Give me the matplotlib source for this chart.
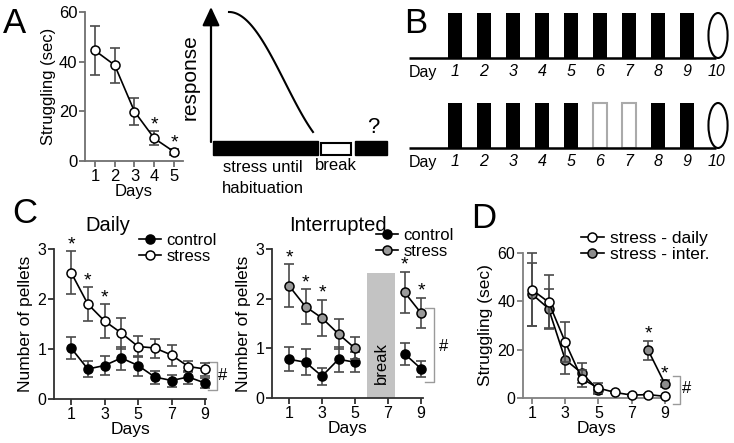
import numpy as np
import matplotlib
matplotlib.use('Agg')
import matplotlib.pyplot as plt
from matplotlib.patches import Ellipse, Rectangle

plt.rcParams['font.family'] = ['Liberation Sans', 'DejaVu Sans']

W, H = 734, 443
nan = np.nan

# A - struggling during daily restraint
days_a = [1, 2, 3, 4, 5]
struggle_a = [44.5, 38.6, 19.9, 9.1, 3.7]
struggle_a_sem = [10, 7, 5.3, 2.8, 1.3]
stars_a = [4, 5]

# B - protocol timelines
protocol_days = [1, 2, 3, 4, 5, 6, 7, 8, 9]
break_days = [6, 7]
test_day = 10
day_labels = ['1', '2', '3', '4', '5', '6', '7', '8', '9', '10']

# C - pellets
days_c = [1, 2, 3, 4, 5, 6, 7, 8, 9]
daily_control = [1.02, 0.6, 0.67, 0.82, 0.67, 0.44, 0.37, 0.44, 0.32]
daily_control_sem = [0.22, 0.16, 0.19, 0.23, 0.2, 0.13, 0.12, 0.13, 0.1]
daily_stress = [2.53, 1.9, 1.56, 1.32, 1.05, 1.02, 0.88, 0.65, 0.6]
daily_stress_sem = [0.43, 0.34, 0.34, 0.31, 0.21, 0.19, 0.21, 0.11, 0.13]
stars_daily = [1, 2, 3]

inter_control = [0.78, 0.72, 0.44, 0.78, 0.72, nan, nan, 0.89, 0.59]
inter_control_sem = [0.24, 0.26, 0.17, 0.25, 0.2, nan, nan, 0.22, 0.16]
inter_stress = [2.26, 1.84, 1.61, 1.29, 1.0, nan, nan, 2.13, 1.71]
inter_stress_sem = [0.43, 0.35, 0.37, 0.31, 0.22, nan, nan, 0.41, 0.31]
stars_inter = [1, 2, 3, 8, 9]
break_span = (5.75, 7.4)
break_height = 2.52

# D - struggling, daily vs interrupted
struggle_daily = [44.8, 39.7, 23.2, 8.0, 4.1, 2.3, 1.2, 1.4, 0.7]
struggle_daily_sem = [15, 11.2, 8.2, 3.4, 2.0, 0.4, 0.3, 0.3, 0.3]
struggle_inter = [43.0, 37.0, 15.9, 10.3, 3.2, nan, nan, 19.7, 5.9]
struggle_inter_sem = [13, 8, 6.1, 4.0, 1.5, nan, nan, 3.9, 1.5]
stars_d = [8, 9]

GRAY = '#9a9a9a'
ERR = '#4a4a4a'


def px_axes(fig, left, top, right, bottom):
    return fig.add_axes([left / W, 1 - bottom / H, (right - left) / W, (bottom - top) / H])


def style_axes(ax, color):
    ax.set_facecolor('none')
    for s in ('top', 'right'):
        ax.spines[s].set_visible(False)
    for s in ('left', 'bottom'):
        ax.spines[s].set_color(color)
        ax.spines[s].set_linewidth(1.3)
    ax.tick_params(direction='out', length=4, width=1.3, color=color, labelsize=11.5, pad=1.5)


def draw_series(ax, x, y, err, face, label=None, z=3):
    ax.errorbar(x, y, yerr=err, fmt='none', ecolor=ERR, elinewidth=1.2,
                capsize=3.5, capthick=1.2, zorder=z - 1, clip_on=False)
    ax.plot(x, y, '-o', color='black', lw=1.2, mfc=face, mec='black', mew=1.1,
            ms=6.5, label=label, zorder=z, clip_on=False)


def add_stars(ax, days, x, y, err, pad):
    for d in days:
        i = x.index(d)
        ax.text(d, y[i] + err[i] + pad, '*', ha='center', va='bottom', fontsize=14,
                clip_on=False)


def add_bracket(ax, x0, x1, y_top, y_bot, x_hash, y_hash):
    ax.plot([x0, x1, x1, x0], [y_top, y_top, y_bot, y_bot], color=GRAY, lw=1.0,
            clip_on=False)
    ax.text(x_hash, y_hash, '#', ha='center', va='center', fontsize=12, clip_on=False)


def fig_legend(ax, x, y, size=12):
    ax.legend(loc='upper left', bbox_to_anchor=(x / W, 1 - y / H),
              bbox_transform=ax.figure.transFigure, frameon=False, fontsize=size,
              handlelength=1.3, handletextpad=0.35, labelspacing=0.05, borderpad=0,
              borderaxespad=0)


fig = plt.figure(figsize=(W / 100, H / 100), dpi=100)

# overlay in pixel units for schematic and labels
ov = fig.add_axes([0, 0, 1, 1])
ov.set_xlim(0, W)
ov.set_ylim(H, 0)
ov.axis('off')

for letter, x, y in [('A', 3, 33), ('B', 404, 33), ('C', 12, 223), ('D', 471, 228)]:
    ov.text(x, y, letter, fontsize=25, va='baseline', ha='left')

ov.text(108, 231, 'Daily', fontsize=14.5, ha='center', va='baseline')
ov.text(338, 231, 'Interrupted', fontsize=14.5, ha='center', va='baseline')

# habituation schematic
ov.annotate('', xy=(211, 7), xytext=(211, 142),
            arrowprops=dict(arrowstyle='-|>,head_length=0.75,head_width=0.35',
                            lw=1.6, color='black', mutation_scale=15, shrinkA=0, shrinkB=0))
t = np.linspace(0, 1, 100)
ov.plot(229 + 84 * t, 12 + 120 * (1 - np.cos(0.75 * np.pi * t)) / (1 - np.cos(0.75 * np.pi)),
        color='black', lw=1.5)
ov.add_patch(Rectangle((213, 141), 105, 14, color='black'))
ov.add_patch(Rectangle((321, 142.5), 30, 12, facecolor='white', edgecolor='black', lw=1.5))
ov.add_patch(Rectangle((355, 141), 32, 14, color='black'))
ov.text(190, 77, 'response', rotation=90, fontsize=15, ha='center', va='center')
ov.text(263, 168, 'stress until', fontsize=12, ha='center', va='center')
ov.text(263, 188, 'habituation', fontsize=12, ha='center', va='center')
ov.text(336, 165, 'break', fontsize=12, ha='center', va='center')
ov.text(373, 127, '?', fontsize=16, ha='center', va='center')

# B - timelines
ax_b = px_axes(fig, 400, 0, 734, 180)
ax_b.set_xlim(1 - 55 / 29, 1 + 279 / 29)
ax_b.set_ylim(180, 0)
ax_b.axis('off')
start_day = 1 - 46 / 29
for base, top, label_y, interrupted in [(58, 13, 72, False), (148, 103, 162, True)]:
    ax_b.plot([start_day, test_day], [base, base], color='black', lw=1.8,
              solid_capstyle='butt')
    for d in protocol_days:
        if interrupted and d in break_days:
            ax_b.bar(d, top - base, bottom=base, width=0.45, facecolor='white',
                     edgecolor='#aaaaaa', lw=1.5)
        else:
            ax_b.bar(d, top - base, bottom=base, width=0.5, color='black')
    ax_b.add_patch(Ellipse((test_day + 0.07, (base + top) / 2), 0.66, base - top,
                           fill=False, lw=1.5, edgecolor='black'))
    ax_b.text(start_day, label_y, 'Day', fontsize=11.5, ha='left', va='center')
    for d, lab in zip(protocol_days + [test_day], day_labels):
        ax_b.text(d, label_y, lab, fontsize=11.5, style='italic', ha='center', va='center')

# A - struggling
ax_a = px_axes(fig, 85, 12, 183, 161)
style_axes(ax_a, '#707070')
draw_series(ax_a, days_a, struggle_a, struggle_a_sem, 'white')
add_stars(ax_a, stars_a, days_a, struggle_a, struggle_a_sem, -1.0)
ax_a.set_xlim(0.5, 5.45)
ax_a.set_ylim(0, 60)
ax_a.set_xticks(days_a)
ax_a.set_yticks([0, 20, 40, 60])
ax_a.set_xlabel('Days', fontsize=12, labelpad=0)
ax_a.set_ylabel('Struggling (sec)', fontsize=12, labelpad=2)
ax_a.tick_params(labelsize=12)

# C - daily
ax_cd = px_axes(fig, 54, 249, 206, 399)
style_axes(ax_cd, '#303030')
draw_series(ax_cd, days_c, daily_control, daily_control_sem, 'black', 'control')
draw_series(ax_cd, days_c, daily_stress, daily_stress_sem, 'white', 'stress', z=5)
add_stars(ax_cd, stars_daily, days_c, daily_stress, daily_stress_sem, -0.04)
add_bracket(ax_cd, 9.2, 9.72, 0.74, 0.18, 10.05, 0.47)
ax_cd.set_xlim(-0.02, 9.06)
ax_cd.set_ylim(0, 3)
ax_cd.set_xticks([1, 3, 5, 7, 9])
ax_cd.set_yticks([0, 1, 2, 3])
ax_cd.set_xlabel('Days', fontsize=12.5, labelpad=0)
ax_cd.set_ylabel('Number of pellets', fontsize=12.5, labelpad=3)
fig_legend(ax_cd, 139, 233)

# C - interrupted
ax_ci = px_axes(fig, 272, 249, 423, 398)
style_axes(ax_ci, '#303030')
ax_ci.add_patch(Rectangle((break_span[0], 0), break_span[1] - break_span[0], break_height,
                          color='#c3c3c3', lw=0, zorder=1))
ax_ci.text(sum(break_span) / 2, 0.7, 'break', rotation=90, fontsize=12,
           ha='center', va='center')
draw_series(ax_ci, days_c, inter_control, inter_control_sem, 'black', 'control')
draw_series(ax_ci, days_c, inter_stress, inter_stress_sem, GRAY, 'stress', z=5)
add_stars(ax_ci, stars_inter, days_c, inter_stress, inter_stress_sem, -0.04)
add_bracket(ax_ci, 9.25, 9.8, 1.81, 0.32, 10.35, 1.03)
ax_ci.set_xlim(-0.03, 9.12)
ax_ci.set_ylim(0, 3)
ax_ci.set_xticks([1, 3, 5, 7, 9])
ax_ci.set_yticks([0, 1, 2, 3])
ax_ci.set_xlabel('Days', fontsize=12.5, labelpad=0)
ax_ci.set_ylabel('Number of pellets', fontsize=12.5, labelpad=3)
fig_legend(ax_ci, 376, 228)

# D - struggling comparison
ax_d = px_axes(fig, 523, 253, 669, 398)
style_axes(ax_d, '#808080')
draw_series(ax_d, days_c, struggle_inter, struggle_inter_sem, '#8c8c8c', None, z=3)
draw_series(ax_d, days_c, struggle_daily, struggle_daily_sem, 'white', None, z=5)
add_stars(ax_d, stars_d, days_c, struggle_inter, struggle_inter_sem, -0.8)
add_bracket(ax_d, 9.5, 9.9, 9.1, -2.5, 10.3, 4.1)
ax_d.plot([], [], '-o', color='black', lw=1.2, mfc='white', mec='black', mew=1.1, ms=6.5,
          label='stress - daily')
ax_d.plot([], [], '-o', color='black', lw=1.2, mfc='#8c8c8c', mec='black', mew=1.1, ms=6.5,
          label='stress - inter.')
ax_d.set_xlim(0.46, 9.25)
ax_d.set_ylim(0, 60)
ax_d.set_xticks([1, 3, 5, 7, 9])
ax_d.set_yticks([0, 20, 40, 60])
ax_d.set_xlabel('Days', fontsize=12.5, labelpad=0)
ax_d.set_ylabel('Struggling (sec)', fontsize=12.5, labelpad=3)
fig_legend(ax_d, 581, 231, size=12.5)

fig.savefig('out.png', dpi=100)
